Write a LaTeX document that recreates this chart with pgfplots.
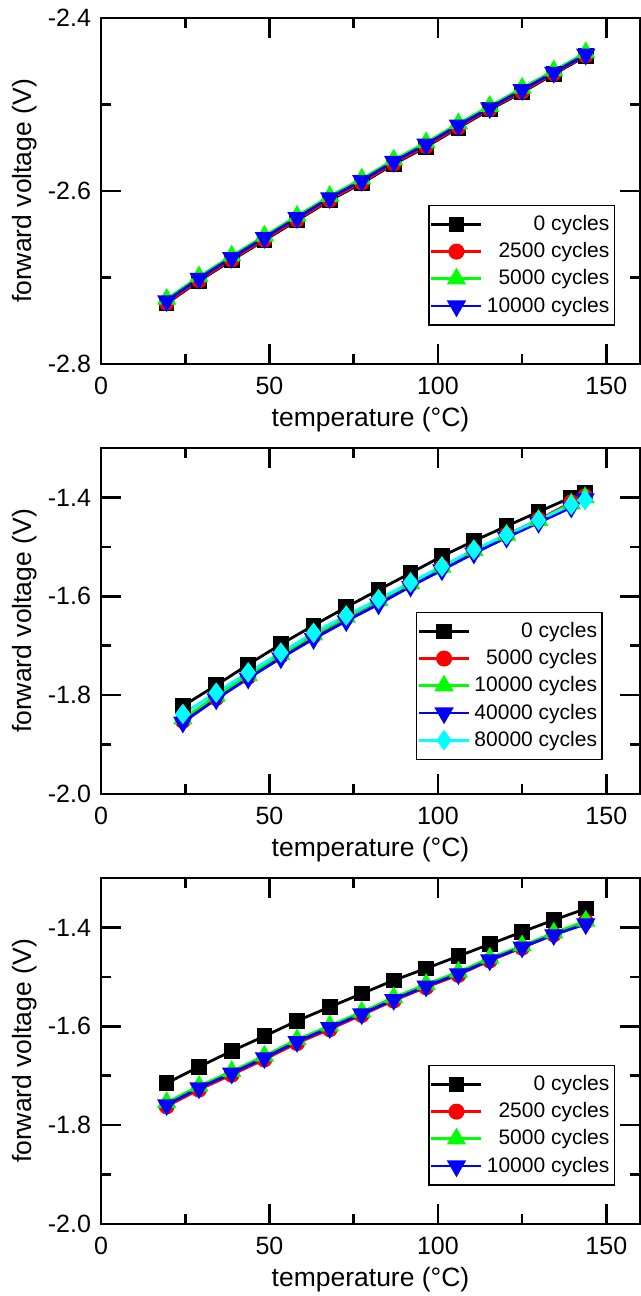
\documentclass[border=0pt]{standalone}
\usepackage{fontspec}
\setmainfont{Liberation Sans}
\usepackage{pgfplots}
\usepackage{pgfplotstable}
\pgfplotsset{compat=1.18}
\definecolor{cyn}{RGB}{0,255,255}
\definecolor{grn}{RGB}{0,255,0}

% panel 1: 0 / 2500 / 5000 / 10000 cycles
\pgfplotstableread{
x     c0      c1      c2      c3
19.5  -2.730  -2.729  -2.725  -2.727
29.1  -2.704  -2.703  -2.699  -2.701
38.8  -2.680  -2.679  -2.675  -2.677
48.5  -2.657  -2.656  -2.652  -2.654
58.2  -2.634  -2.633  -2.629  -2.631
67.9  -2.611  -2.610  -2.606  -2.608
77.4  -2.591  -2.590  -2.586  -2.588
86.9  -2.569  -2.568  -2.564  -2.566
96.5  -2.549  -2.548  -2.544  -2.546
106.1 -2.527  -2.526  -2.522  -2.524
115.4 -2.506  -2.505  -2.502  -2.504
125.0 -2.486  -2.485  -2.481  -2.483
134.4 -2.465  -2.464  -2.461  -2.463
143.9 -2.444  -2.443  -2.440  -2.442
}\tabA

% panel 2: 0 / 5000 / 10000 / 40000 / 80000 cycles
\pgfplotstableread{
x     c0      c1      c2      c3      c4
24.3  -1.822  -1.852  -1.848  -1.855  -1.838
34.2  -1.780  -1.806  -1.802  -1.808  -1.795
43.7  -1.738  -1.763  -1.760  -1.766  -1.754
53.4  -1.697  -1.720  -1.718  -1.725  -1.714
63.1  -1.659  -1.680  -1.678  -1.686  -1.674
72.8  -1.622  -1.643  -1.642  -1.650  -1.639
82.4  -1.587  -1.609  -1.608  -1.616  -1.606
91.9  -1.553  -1.575  -1.574  -1.580  -1.572
101.2 -1.519  -1.541  -1.541  -1.547  -1.540
110.7 -1.488  -1.508  -1.507  -1.513  -1.506
120.4 -1.458  -1.476  -1.476  -1.481  -1.476
129.9 -1.429  -1.445  -1.446  -1.451  -1.446
139.6 -1.400  -1.410  -1.413  -1.420  -1.415
143.7 -1.391  -1.398  -1.400  -1.403  -1.405
}\tabB

% panel 3: 0 / 2500 / 5000 / 10000 cycles
\pgfplotstableread{
x     c0      c1      c2      c3
19.5  -1.715  -1.762  -1.754  -1.759
29.1  -1.682  -1.728  -1.721  -1.725
38.8  -1.650  -1.698  -1.691  -1.695
48.5  -1.620  -1.667  -1.660  -1.664
58.2  -1.589  -1.634  -1.627  -1.631
67.9  -1.561  -1.606  -1.599  -1.603
77.4  -1.534  -1.577  -1.571  -1.575
86.9  -1.507  -1.548  -1.542  -1.546
96.5  -1.483  -1.521  -1.515  -1.519
106.1 -1.458  -1.496  -1.490  -1.494
115.4 -1.434  -1.467  -1.462  -1.466
125.0 -1.409  -1.441  -1.437  -1.440
134.4 -1.385  -1.414  -1.411  -1.415
143.9 -1.362  -1.388  -1.387  -1.393
}\tabC

\pgfplotsset{
  panel/.style={
    scale only axis, width=269.5pt, height=173pt,
    xmin=0, xmax=160, xtick={0,50,100,150},
    minor x tick num=1, minor y tick num=1,
    tick align=inside, major tick length=10pt, minor tick length=5pt,
    axis line style={line width=1.3pt},
    every tick/.style={black, line width=1.3pt},
    /pgf/number format/assume math mode=true,
    tick label style={font=\fontsize{12.5}{14}\selectfont},
    xticklabel style={yshift=-3pt},
    yticklabel style={xshift=-1.5pt},
    label style={font=\fontsize{13.25}{15}\selectfont},
    xlabel={temperature (°C)}, ylabel={forward voltage (V)},
    xlabel style={at={(axis description cs:0.5,-0.162)}, anchor=center},
    ylabel style={at={(axis description cs:-0.141,0.5)}, anchor=center},
    legend cell align=right,
    legend style={anchor=south east, draw=black, line width=0.75pt,
      font=\fontsize{10.5}{12}\selectfont, inner xsep=0.5pt, inner ysep=3pt,
      row sep=0.5pt},
    legend image code/.code={%
      \draw[mark repeat=2, mark phase=2]
        plot coordinates {(0pt,0pt) (12.5pt,0pt) (25pt,0pt)};},
  },
  s0/.style={black, line width=1.4pt, mark=square*, mark size=3.2pt, mark options={solid}},
  s1/.style={red, line width=1.4pt, mark=*, mark size=3.3pt, mark options={solid}},
  s2/.style={grn, line width=1.4pt, mark=triangle*, mark size=4.2pt, mark options={solid}},
  s3/.style={blue, line width=1.4pt, mark=triangle*, mark size=4.2pt, mark options={solid, rotate=180}},
  s4/.style={cyn, line width=1.4pt, mark=diamond*, mark size=4pt, mark options={solid}},
}

\begin{document}
\begin{tikzpicture}
\useasboundingbox (-50.5pt,9pt) rectangle (270pt,-639pt);

\begin{axis}[panel, at={(0pt,0pt)}, anchor=north west,
  ymin=-2.8, ymax=-2.4, ytick={-2.8,-2.6,-2.4}, yticklabels={-2.8,-2.6,-2.4},
  legend style={at={(axis description cs:0.954,0.11)}}]
  \addplot[s0] table[x=x, y=c0] {\tabA};
  \addplot[s1] table[x=x, y=c1] {\tabA};
  \addplot[s2] table[x=x, y=c2] {\tabA};
  \addplot[s3] table[x=x, y=c3] {\tabA};
  \legend{0 cycles, 2500 cycles, 5000 cycles, 10000 cycles}
\end{axis}

\begin{axis}[panel, at={(0pt,-215pt)}, anchor=north west,
  ymin=-2.0, ymax=-1.3, ytick={-2.0,-1.8,-1.6,-1.4}, yticklabels={-2.0,-1.8,-1.6,-1.4},
  legend style={at={(axis description cs:0.931,0.098)}}]
  \addplot[s0] table[x=x, y=c0] {\tabB};
  \addplot[s1] table[x=x, y=c1] {\tabB};
  \addplot[s2] table[x=x, y=c2] {\tabB};
  \addplot[s3] table[x=x, y=c3] {\tabB};
  \addplot[s4] table[x=x, y=c4] {\tabB};
  \legend{0 cycles, 5000 cycles, 10000 cycles, 40000 cycles, 80000 cycles}
\end{axis}

\begin{axis}[panel, at={(0pt,-430pt)}, anchor=north west,
  ymin=-2.0, ymax=-1.3, ytick={-2.0,-1.8,-1.6,-1.4}, yticklabels={-2.0,-1.8,-1.6,-1.4},
  legend style={at={(axis description cs:0.954,0.11)}}]
  \addplot[s0] table[x=x, y=c0] {\tabC};
  \addplot[s1] table[x=x, y=c1] {\tabC};
  \addplot[s2] table[x=x, y=c2] {\tabC};
  \addplot[s3] table[x=x, y=c3] {\tabC};
  \legend{0 cycles, 2500 cycles, 5000 cycles, 10000 cycles}
\end{axis}
\end{tikzpicture}
\end{document}
